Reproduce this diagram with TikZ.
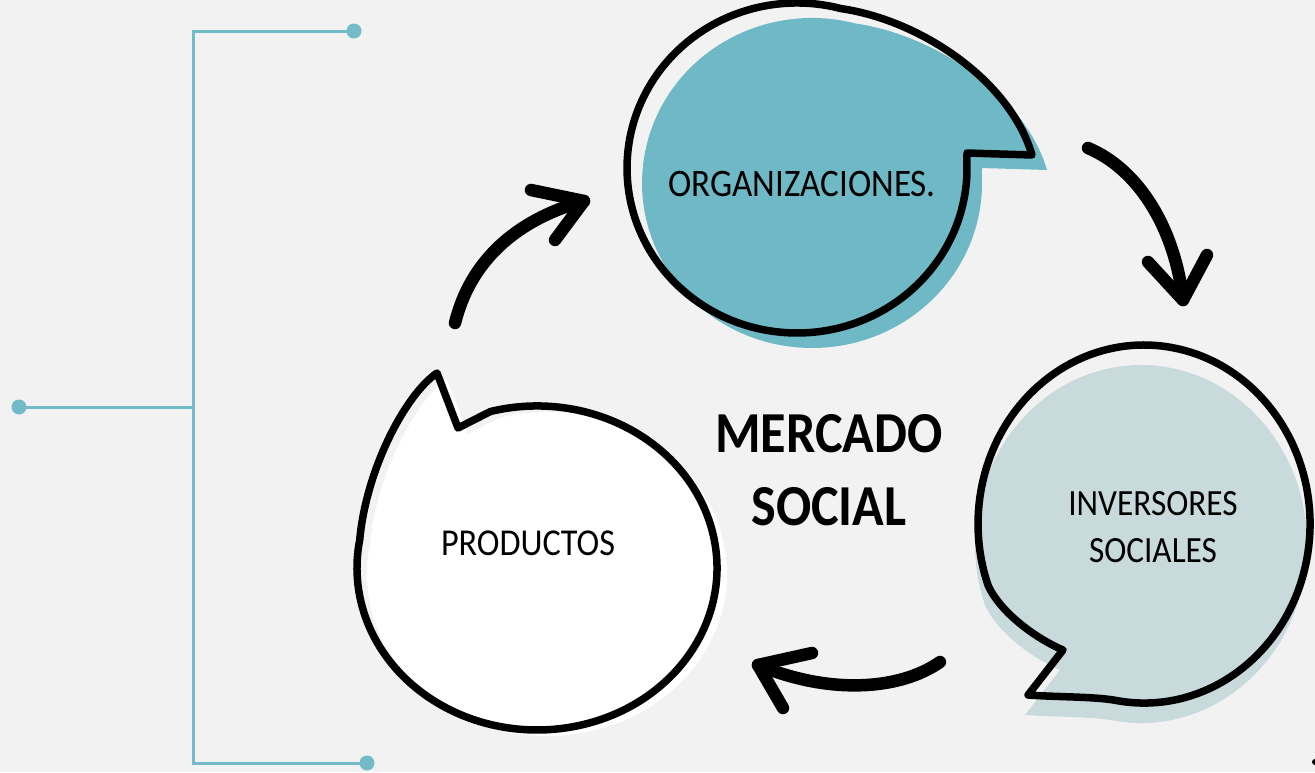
\documentclass[tikz,border=0pt]{standalone}
\usepackage{fontspec}
\newfontfamily\hand[FakeStretch=0.9]{Carlito}
\definecolor{bgc}{HTML}{F2F2F2}
\definecolor{tealc}{HTML}{6FB8C6}
\definecolor{paleblue}{HTML}{C9DADD}
\definecolor{brkc}{HTML}{74BBC9}
\tikzset{
  outline/.style={draw=black, line width=7.5, line join=round},
  arrowline/.style={draw=black, line width=12.5, line cap=round, line join=round},
  brk/.style={draw=brkc, line width=3},
  label/.style={font=\hand, text=black, inner sep=0, align=center}
}
\newcommand\orgshape[1]{\path[#1] (967,153) -- (966.8,176.6)
  arc[start angle=3, end angle=285, x radius=170, y radius=165]
  .. controls (920,20) and (1010,80) .. (1032,155) -- cycle;}
\newcommand\invshape[1]{\path[#1] (1028,695) .. controls (1055,697) and (1095,696.6) .. (1115.2,700.3)
  arc[start angle=100, end angle=-200, x radius=166, y radius=179]
  .. controls (1000,612) and (1035,638) .. (1063,650) -- cycle;}
\newcommand\prodshape[1]{\path[#1] (458,428) -- (490.4,411.5)
  arc[start angle=255, end angle=550, x radius=180, y radius=162]
  .. controls (366,470) and (405,395) .. (437,373) -- cycle;}
\begin{document}
\begin{tikzpicture}[x=1pt,y=-1pt]
\useasboundingbox (0,0) rectangle (1315,772);
\fill[bgc] (0,0) rectangle (1315,772);
% bubbles
\orgshape{fill=tealc, shift={(15,15)}}
\orgshape{outline}
\invshape{fill=paleblue, shift={(-3,20)}}
\invshape{outline}
\prodshape{fill=white, shift={(10,6)}}
\prodshape{outline}
% texts
\node[label, font=\hand\fontsize{39}{44}\selectfont] (org) at (802,184) {ORGANIZACIONES.};
\node[label, font=\hand\fontsize{37}{47}\selectfont] (inv) at (1153,527) {INVERSORES\\SOCIALES};
\node[label, font=\hand\fontsize{38}{44}\selectfont] (prod) at (528,543) {PRODUCTOS};
\node[label, font=\hand\bfseries\fontsize{58}{73}\selectfont] (merc) at (829,470) {MERCADO\\SOCIAL};
% arrows
\coordinate (a1s) at (455,323);
\coordinate (a1e) at (584,201);
\coordinate (a2s) at (1088,148);
\coordinate (a2e) at (1183,300);
\coordinate (a3s) at (940,662);
\coordinate (a3e) at (758,665);
\draw[arrowline] (a1s) .. controls (470,262) and (515,220) .. (a1e);
\draw[arrowline] (531,190) -- (a1e) -- (555,240);
\draw[arrowline] (a2s) .. controls (1140,170) and (1175,230) .. (a2e);
\draw[arrowline] (1148,262) -- (a2e) -- (1207,255);
\draw[arrowline] (a3s) .. controls (900,690) and (830,695) .. (a3e);
\draw[arrowline] (812,653) -- (a3e) -- (783,708);
% bracket
\coordinate (bt) at (354,31);
\coordinate (bm) at (19,407);
\coordinate (bb) at (367,763);
\coordinate (bj) at (193,407);
\draw[brk] (bt) -- (193,31) -- (193,763) -- (bb);
\draw[brk] (bm) -- (bj);
\fill[brkc] (bt) circle[radius=7.5];
\fill[brkc] (bm) circle[radius=7.5];
\fill[brkc] (bb) circle[radius=7.5];
\fill[black] (1315,762) circle[radius=3];
\end{tikzpicture}
\end{document}
